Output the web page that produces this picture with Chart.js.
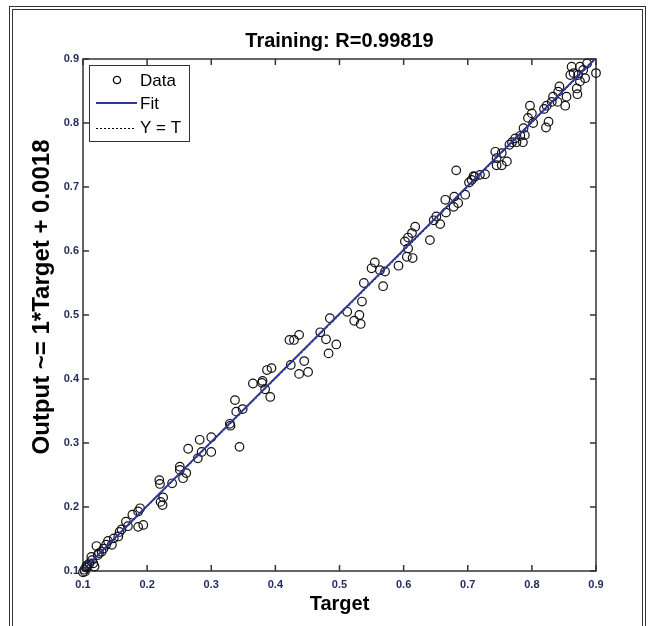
<!DOCTYPE html>
<html>
<head>
<meta charset="utf-8">
<script src="https://cdn.jsdelivr.net/npm/chart.js@4.4.1/dist/chart.umd.min.js"></script>
<style>
    body { margin: 0; background: #ffffff; }
    #wrap { position: relative; width: 648px; height: 626px; overflow: hidden; }
    #frame {
        position: absolute; left: 9px; top: 6px;
        width: 629px; height: 700px;
        border: 4px double #333333;
    }
    canvas { position: absolute; left: 0; top: 0; }
</style>
</head>
<body>
<div id="wrap">
    <div id="frame"></div>
    <canvas id="regressionChart" width="648" height="626"></canvas>
</div>
<script>

// Target values (x) and network outputs (y)
const targetValues = [
    0.102, 0.100, 0.103, 0.105, 0.106, 0.107, 0.110, 0.113, 0.114, 0.116,
    0.118, 0.121, 0.123, 0.125, 0.129, 0.132, 0.136, 0.139, 0.145, 0.148,
    0.155, 0.157, 0.160, 0.167, 0.170, 0.177, 0.186, 0.186, 0.189, 0.194,
    0.219, 0.220, 0.221, 0.224, 0.225, 0.239, 0.251, 0.251, 0.256, 0.261,
    0.264, 0.279, 0.282, 0.285, 0.300, 0.300, 0.329, 0.330, 0.337, 0.339,
    0.344, 0.349, 0.365, 0.379, 0.380, 0.384, 0.387, 0.392, 0.394, 0.422,
    0.424, 0.429, 0.437, 0.437, 0.445, 0.451, 0.470, 0.479, 0.483, 0.485,
    0.495, 0.512, 0.523, 0.531, 0.533, 0.535, 0.538, 0.550, 0.555, 0.563,
    0.568, 0.571, 0.592, 0.602, 0.605, 0.607, 0.607, 0.613, 0.614, 0.618,
    0.641, 0.647, 0.651, 0.657, 0.665, 0.666, 0.678, 0.679, 0.682, 0.685,
    0.696, 0.702, 0.706, 0.709, 0.711, 0.719, 0.727, 0.743, 0.745, 0.745,
    0.753, 0.753, 0.761, 0.765, 0.769, 0.774, 0.776, 0.782, 0.786, 0.787,
    0.789, 0.794, 0.797, 0.800, 0.802, 0.819, 0.822, 0.823, 0.826, 0.831,
    0.833, 0.840, 0.841, 0.843, 0.852, 0.854, 0.860, 0.862, 0.865, 0.870,
    0.871, 0.872, 0.875, 0.875, 0.880, 0.883, 0.886, 0.900
];

const outputValues = [
    0.102, 0.098, 0.099, 0.107, 0.105, 0.109, 0.112, 0.122, 0.117, 0.112,
    0.107, 0.139, 0.125, 0.128, 0.130, 0.135, 0.141, 0.147, 0.141, 0.151,
    0.154, 0.161, 0.165, 0.177, 0.170, 0.188, 0.193, 0.169, 0.198, 0.172,
    0.242, 0.236, 0.208, 0.203, 0.215, 0.237, 0.263, 0.258, 0.245, 0.253,
    0.291, 0.276, 0.305, 0.286, 0.309, 0.286, 0.330, 0.327, 0.367, 0.349,
    0.294, 0.353, 0.393, 0.394, 0.397, 0.384, 0.414, 0.372, 0.417, 0.461,
    0.422, 0.461, 0.469, 0.408, 0.428, 0.411, 0.473, 0.462, 0.440, 0.495,
    0.454, 0.505, 0.491, 0.500, 0.486, 0.521, 0.550, 0.573, 0.582, 0.570,
    0.545, 0.568, 0.577, 0.615, 0.591, 0.621, 0.604, 0.628, 0.589, 0.638,
    0.617, 0.648, 0.654, 0.642, 0.680, 0.660, 0.669, 0.685, 0.726, 0.675,
    0.688, 0.707, 0.711, 0.717, 0.716, 0.719, 0.720, 0.755, 0.745, 0.734,
    0.753, 0.734, 0.740, 0.766, 0.770, 0.776, 0.770, 0.780, 0.770, 0.792,
    0.781, 0.808, 0.827, 0.815, 0.800, 0.822, 0.793, 0.827, 0.802, 0.833,
    0.841, 0.833, 0.849, 0.857, 0.827, 0.841, 0.875, 0.888, 0.878, 0.854,
    0.845, 0.875, 0.888, 0.865, 0.883, 0.870, 0.893, 0.878
];

// Fit line: Output ~= 1*Target + 0.0018, and the Y = T line
const fitTarget = [0.1, 0.9];
const fitOutput = [0.1018, 0.9018];
const identityTarget = [0.1, 0.9];
const identityOutput = [0.1, 0.9];

const tickValues = [0.1, 0.2, 0.3, 0.4, 0.5, 0.6, 0.7, 0.8, 0.9];

const chartTitle = "Training: R=0.99819";
const xTitle = "Target";
const yTitle = "Output ~= 1*Target + 0.0018";
const legendLabels = ["Data", "Fit", "Y = T"];

const fitColor = "#2b389e";
const tickColor = "#262c5e";
const fontName = "'Liberation Sans', Arial, sans-serif";


function toPoints(xs, ys) {

    return xs.map((x, i) => ({ x: x, y: ys[i] }));

}

function useTicks(scale) {

    scale.ticks = tickValues.map(v => ({ value: v }));

}

const framePlugin = {

    id: "framePlugin",

    beforeDatasetsDraw(chart) {

        const ctx = chart.ctx;
        const area = chart.chartArea;
        const xs = chart.scales.x;
        const ys = chart.scales.y;

        ctx.save();
        ctx.strokeStyle = "#333333";
        ctx.lineWidth = 1.5;

        ctx.strokeRect(
            area.left, area.top,
            area.right - area.left,
            area.bottom - area.top
        );

        // inward ticks on all four sides
        ctx.beginPath();

        tickValues.forEach(v => {

            const px = xs.getPixelForValue(v);
            const py = ys.getPixelForValue(v);

            ctx.moveTo(px, area.bottom);
            ctx.lineTo(px, area.bottom - 6);
            ctx.moveTo(px, area.top);
            ctx.lineTo(px, area.top + 6);

            ctx.moveTo(area.left, py);
            ctx.lineTo(area.left + 6, py);
            ctx.moveTo(area.right, py);
            ctx.lineTo(area.right - 6, py);

        });

        ctx.stroke();
        ctx.restore();

    },

    afterDraw(chart) {

        const ctx = chart.ctx;
        const area = chart.chartArea;
        const midX = (area.left + area.right) / 2;

        ctx.save();
        ctx.fillStyle = "#000000";
        ctx.textAlign = "center";
        ctx.textBaseline = "middle";

        ctx.font = "bold 20px " + fontName;
        ctx.fillText(chartTitle, midX, 41);
        ctx.fillText(xTitle, midX, 604);

        ctx.save();
        ctx.translate(42, 297);
        ctx.rotate(-Math.PI / 2);
        ctx.font = "bold 24px " + fontName;
        ctx.fillText(yTitle, 0, 0);
        ctx.restore();

        // legend box
        ctx.fillStyle = "#ffffff";
        ctx.fillRect(89, 65, 100, 76);
        ctx.strokeStyle = "#333333";
        ctx.lineWidth = 1;
        ctx.strokeRect(89.5, 65.5, 100, 76);

        ctx.strokeStyle = "#000000";
        ctx.lineWidth = 1.3;
        ctx.beginPath();
        ctx.arc(117, 80, 3.6, 0, Math.PI * 2);
        ctx.stroke();

        ctx.strokeStyle = fitColor;
        ctx.lineWidth = 2;
        ctx.beginPath();
        ctx.moveTo(96, 103);
        ctx.lineTo(137, 103);
        ctx.stroke();

        ctx.strokeStyle = "#000000";
        ctx.lineWidth = 1;
        ctx.setLineDash([2, 2]);
        ctx.beginPath();
        ctx.moveTo(96, 128.5);
        ctx.lineTo(135, 128.5);
        ctx.stroke();
        ctx.setLineDash([]);

        ctx.fillStyle = "#000000";
        ctx.textAlign = "left";
        ctx.font = "17px " + fontName;
        ctx.fillText(legendLabels[0], 140, 81);
        ctx.fillText(legendLabels[1], 140, 104);
        ctx.fillText(legendLabels[2], 140, 128);

        ctx.restore();

    }

};

function createRegressionChart() {

    const chartCanvas =
        document.getElementById("regressionChart");

    new Chart(chartCanvas, {

        type: "scatter",

        data: {

            datasets: [

                {
                    label: legendLabels[0],
                    data: toPoints(targetValues, outputValues),
                    pointStyle: "circle",
                    pointRadius: 4.3,
                    pointBorderWidth: 1.2,
                    pointBorderColor: "#111111",
                    pointBackgroundColor: "rgba(0,0,0,0)",
                    clip: false,
                    order: 2
                },

                {
                    label: legendLabels[2],
                    type: "line",
                    data: toPoints(identityTarget, identityOutput),
                    borderColor: "#000000",
                    borderWidth: 1,
                    borderDash: [2, 2],
                    pointRadius: 0,
                    order: 1
                },

                {
                    label: legendLabels[1],
                    type: "line",
                    data: toPoints(fitTarget, fitOutput),
                    borderColor: fitColor,
                    borderWidth: 2,
                    pointRadius: 0,
                    order: 0
                }

            ]

        },

        options: {

            responsive: false,
            animation: false,

            layout: {
                padding: { left: 0, top: 59, right: 52, bottom: 0 }
            },

            plugins: {
                legend: { display: false },
                tooltip: { enabled: false }
            },

            scales: {

                x: {
                    type: "linear",
                    min: 0.1,
                    max: 0.9,
                    afterBuildTicks: useTicks,
                    afterFit: s => { s.height = 55; },
                    grid: { display: false, drawTicks: false },
                    border: { display: false },
                    ticks: {
                        padding: 7,
                        color: tickColor,
                        font: { family: fontName, size: 11, weight: "bold" },
                        callback: v => v.toFixed(1)
                    }
                },

                y: {
                    type: "linear",
                    min: 0.1,
                    max: 0.9,
                    afterBuildTicks: useTicks,
                    afterFit: s => { s.width = 83; },
                    grid: { display: false, drawTicks: false },
                    border: { display: false },
                    ticks: {
                        padding: 4,
                        color: tickColor,
                        font: { family: fontName, size: 11, weight: "bold" },
                        callback: v => v.toFixed(1)
                    }
                }

            }

        },

        plugins: [framePlugin]

    });

}

createRegressionChart();

</script>
</body>
</html>
